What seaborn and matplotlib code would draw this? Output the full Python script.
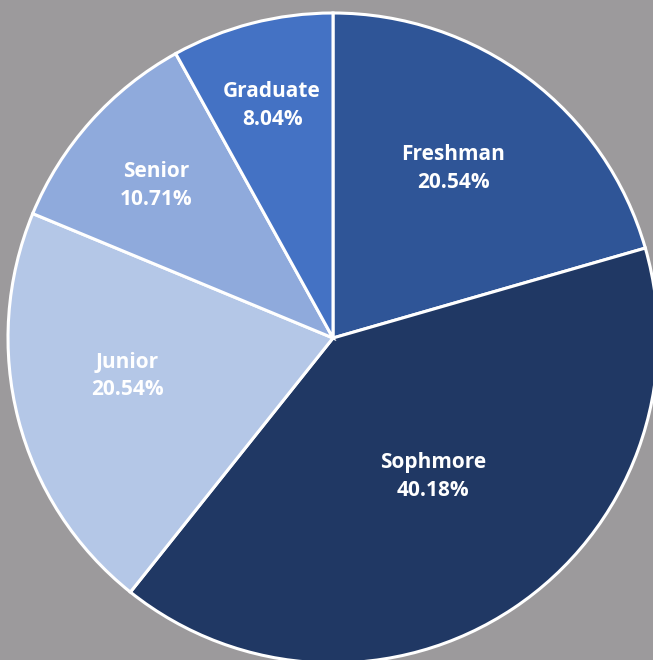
import numpy as np
import matplotlib
matplotlib.use("Agg")
import matplotlib.pyplot as plt
import seaborn as sns

categories = ["Freshman", "Sophmore", "Junior", "Senior", "Graduate"]
shares = [20.54, 40.18, 20.54, 10.71, 8.04]
pct_labels = ["20.54%", "40.18%", "20.54%", "10.71%", "8.04%"]

colors = ["#2F5597", "#203864", "#B4C7E7", "#8FAADC", "#4472C4"]
label_radius = [0.64, 0.526, 0.643, 0.717, 0.74]
label_angle_shift = [1.6, 2.2, -4.0, 1.0, 0.2]

sns.set_style("white")
plt.rcParams["font.family"] = ["Open Sans", "DejaVu Sans"]

W, H = 653, 660
fig = plt.figure(figsize=(W / 100, H / 100), dpi=100)
bg = "#9C9A9C"
fig.patch.set_facecolor(bg)
ax = fig.add_axes([0, 0, 1, 1])
ax.set_facecolor(bg)

cx, cy, r = 333, 338, 325
wedges, _ = ax.pie(shares, colors=colors, startangle=90, counterclock=False,
                   radius=1.0, center=(0, 0),
                   wedgeprops=dict(edgecolor="white", linewidth=2.2))

for w, cat, pl, lr, da in zip(wedges, categories, pct_labels, label_radius, label_angle_shift):
    mid = np.deg2rad((w.theta1 + w.theta2) / 2 + da)
    x, y = lr * np.cos(mid), lr * np.sin(mid)
    ax.text(x, y, f"{cat}\n{pl}", ha="center", va="center", color="white",
            fontsize=15, fontweight="bold", linespacing=1.42)

ax.set_xlim(-cx / r, (W - cx) / r)
ax.set_ylim(-(H - cy) / r, cy / r)
ax.set_aspect("auto")
ax.axis("off")

fig.savefig("out.png", dpi=100, facecolor=bg)
